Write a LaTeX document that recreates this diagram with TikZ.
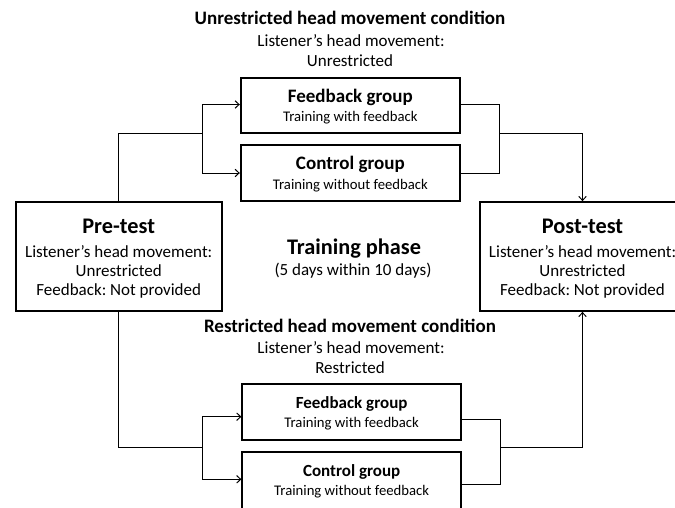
\documentclass[tikz,border=0pt]{standalone}
\usepackage{fontspec}
\setmainfont{Carlito}
\usetikzlibrary{arrows.meta}
\newcommand{\fsz}[2]{\fontsize{#1}{#2}\selectfont}
\frenchspacing
\begin{document}
\begin{tikzpicture}[x=1pt,y=-1pt,
  box/.style={draw, line width=1.8pt, inner sep=0pt, align=center},
  conn/.style={line width=1pt},
  arr/.style={conn, -{Straight Barb[length=4pt,width=7.5pt,line width=1pt]}},
  lbl/.style={anchor=base, inner sep=0pt},
  ttl/.style={lbl, font=\fsz{19}{22}\bfseries},
  sub/.style={lbl, font=\fsz{17}{20}}
]
\useasboundingbox (0,0) rectangle (675,507);
\clip (0,0) rectangle (675,507);

% main boxes
\node[box, minimum width=206pt, minimum height=109pt, font=\fsz{17}{19.2}] (pre) at (118.7,256.5)
  {\rule{0pt}{20.5pt}{\fsz{22.3}{26}\bfseries Pre-test}\\[4.1pt]
   Listener's head movement:\\ Unrestricted\\ Feedback: Not provided\rule[-4pt]{0pt}{4pt}};
\node[box, minimum width=205pt, minimum height=109pt, font=\fsz{17}{19.2}] (post) at (582.5,256.5)
  {\rule{0pt}{20.5pt}{\fsz{22.3}{26}\bfseries Post-test}\\[4.1pt]
   Listener's head movement:\\ Unrestricted\\ Feedback: Not provided\rule[-4pt]{0pt}{4pt}};

% unrestricted groups
\node[box, minimum width=219.3pt, minimum height=54.4pt, font=\fsz{14.7}{18.9}] (fbU) at (350.35,105.5)
  {\rule{0pt}{17.5pt}{\fsz{19}{22}\bfseries Feedback group}\\ Training with feedback\rule[-4pt]{0pt}{4pt}};
\node[box, minimum width=219.3pt, minimum height=56pt, font=\fsz{14.7}{19.7}] (ctU) at (350.35,173)
  {\rule{0pt}{17.3pt}{\fsz{19}{22}\bfseries Control group}\\ Training without feedback\rule[-4pt]{0pt}{4pt}};

% restricted groups
\node[box, minimum width=218.7pt, minimum height=56pt, font=\fsz{14.7}{19}] (fbR) at (351.65,412)
  {\rule{0pt}{16.4pt}{\fsz{17}{20}\bfseries Feedback group}\\ Training with feedback\rule[-4pt]{0pt}{4pt}};
\node[box, minimum width=218.7pt, minimum height=62pt, font=\fsz{14.7}{19}] (ctR) at (351.65,483.3)
  {\rule{0pt}{14.4pt}{\fsz{17}{20}\bfseries Control group}\\ Training without feedback\rule[-10pt]{0pt}{10pt}};

% headings
\node[ttl] (uncond) at (350,24) {Unrestricted head movement condition};
\node[sub] (unlist) at (351,46.5) {Listener's head movement:};
\node[sub] (unval) at (350,66) {Unrestricted};
\node[lbl, font=\fsz{22.3}{26}\bfseries] (phase) at (354,254.3) {Training phase};
\node[sub] (days) at (353,275) {(5 days within 10 days)};
\node[ttl] (rcond) at (350,332.7) {Restricted head movement condition};
\node[sub] (rlist) at (351,353.5) {Listener's head movement:};
\node[sub] (rval) at (350,373) {Restricted};

% junction coordinates
\coordinate (jUL) at (202.7,133.3);
\coordinate (jUR) at (499.3,133.3);
\coordinate (jRL) at (202.7,447.7);
\coordinate (jRR) at (500.7,447.5);

% unrestricted branch
\draw[conn] (pre.north) -- (pre.north |- jUL) -- (jUL);
\draw[arr] (jUL) |- ([yshift=1pt]fbU.west);
\draw[arr] (jUL) |- (ctU.west);
\draw[conn] ([yshift=1pt]fbU.east) -| (jUR);
\draw[conn] (ctU.east) -| (jUR);
\draw[arr] (jUR) -| (post.north);

% restricted branch
\draw[conn] (pre.south) -- (pre.south |- jRL) -- (jRL);
\draw[arr] (jRL) |- ([yshift=-4.7pt]fbR.west);
\draw[arr] (jRL) |- ([yshift=4pt]ctR.west);
\draw[conn] ([yshift=-7.5pt]fbR.east) -| (jRR);
\draw[conn] ([yshift=-0.7pt]ctR.east) -| (jRR);
\draw[arr] (jRR) -| (post.south);
\end{tikzpicture}
\end{document}
